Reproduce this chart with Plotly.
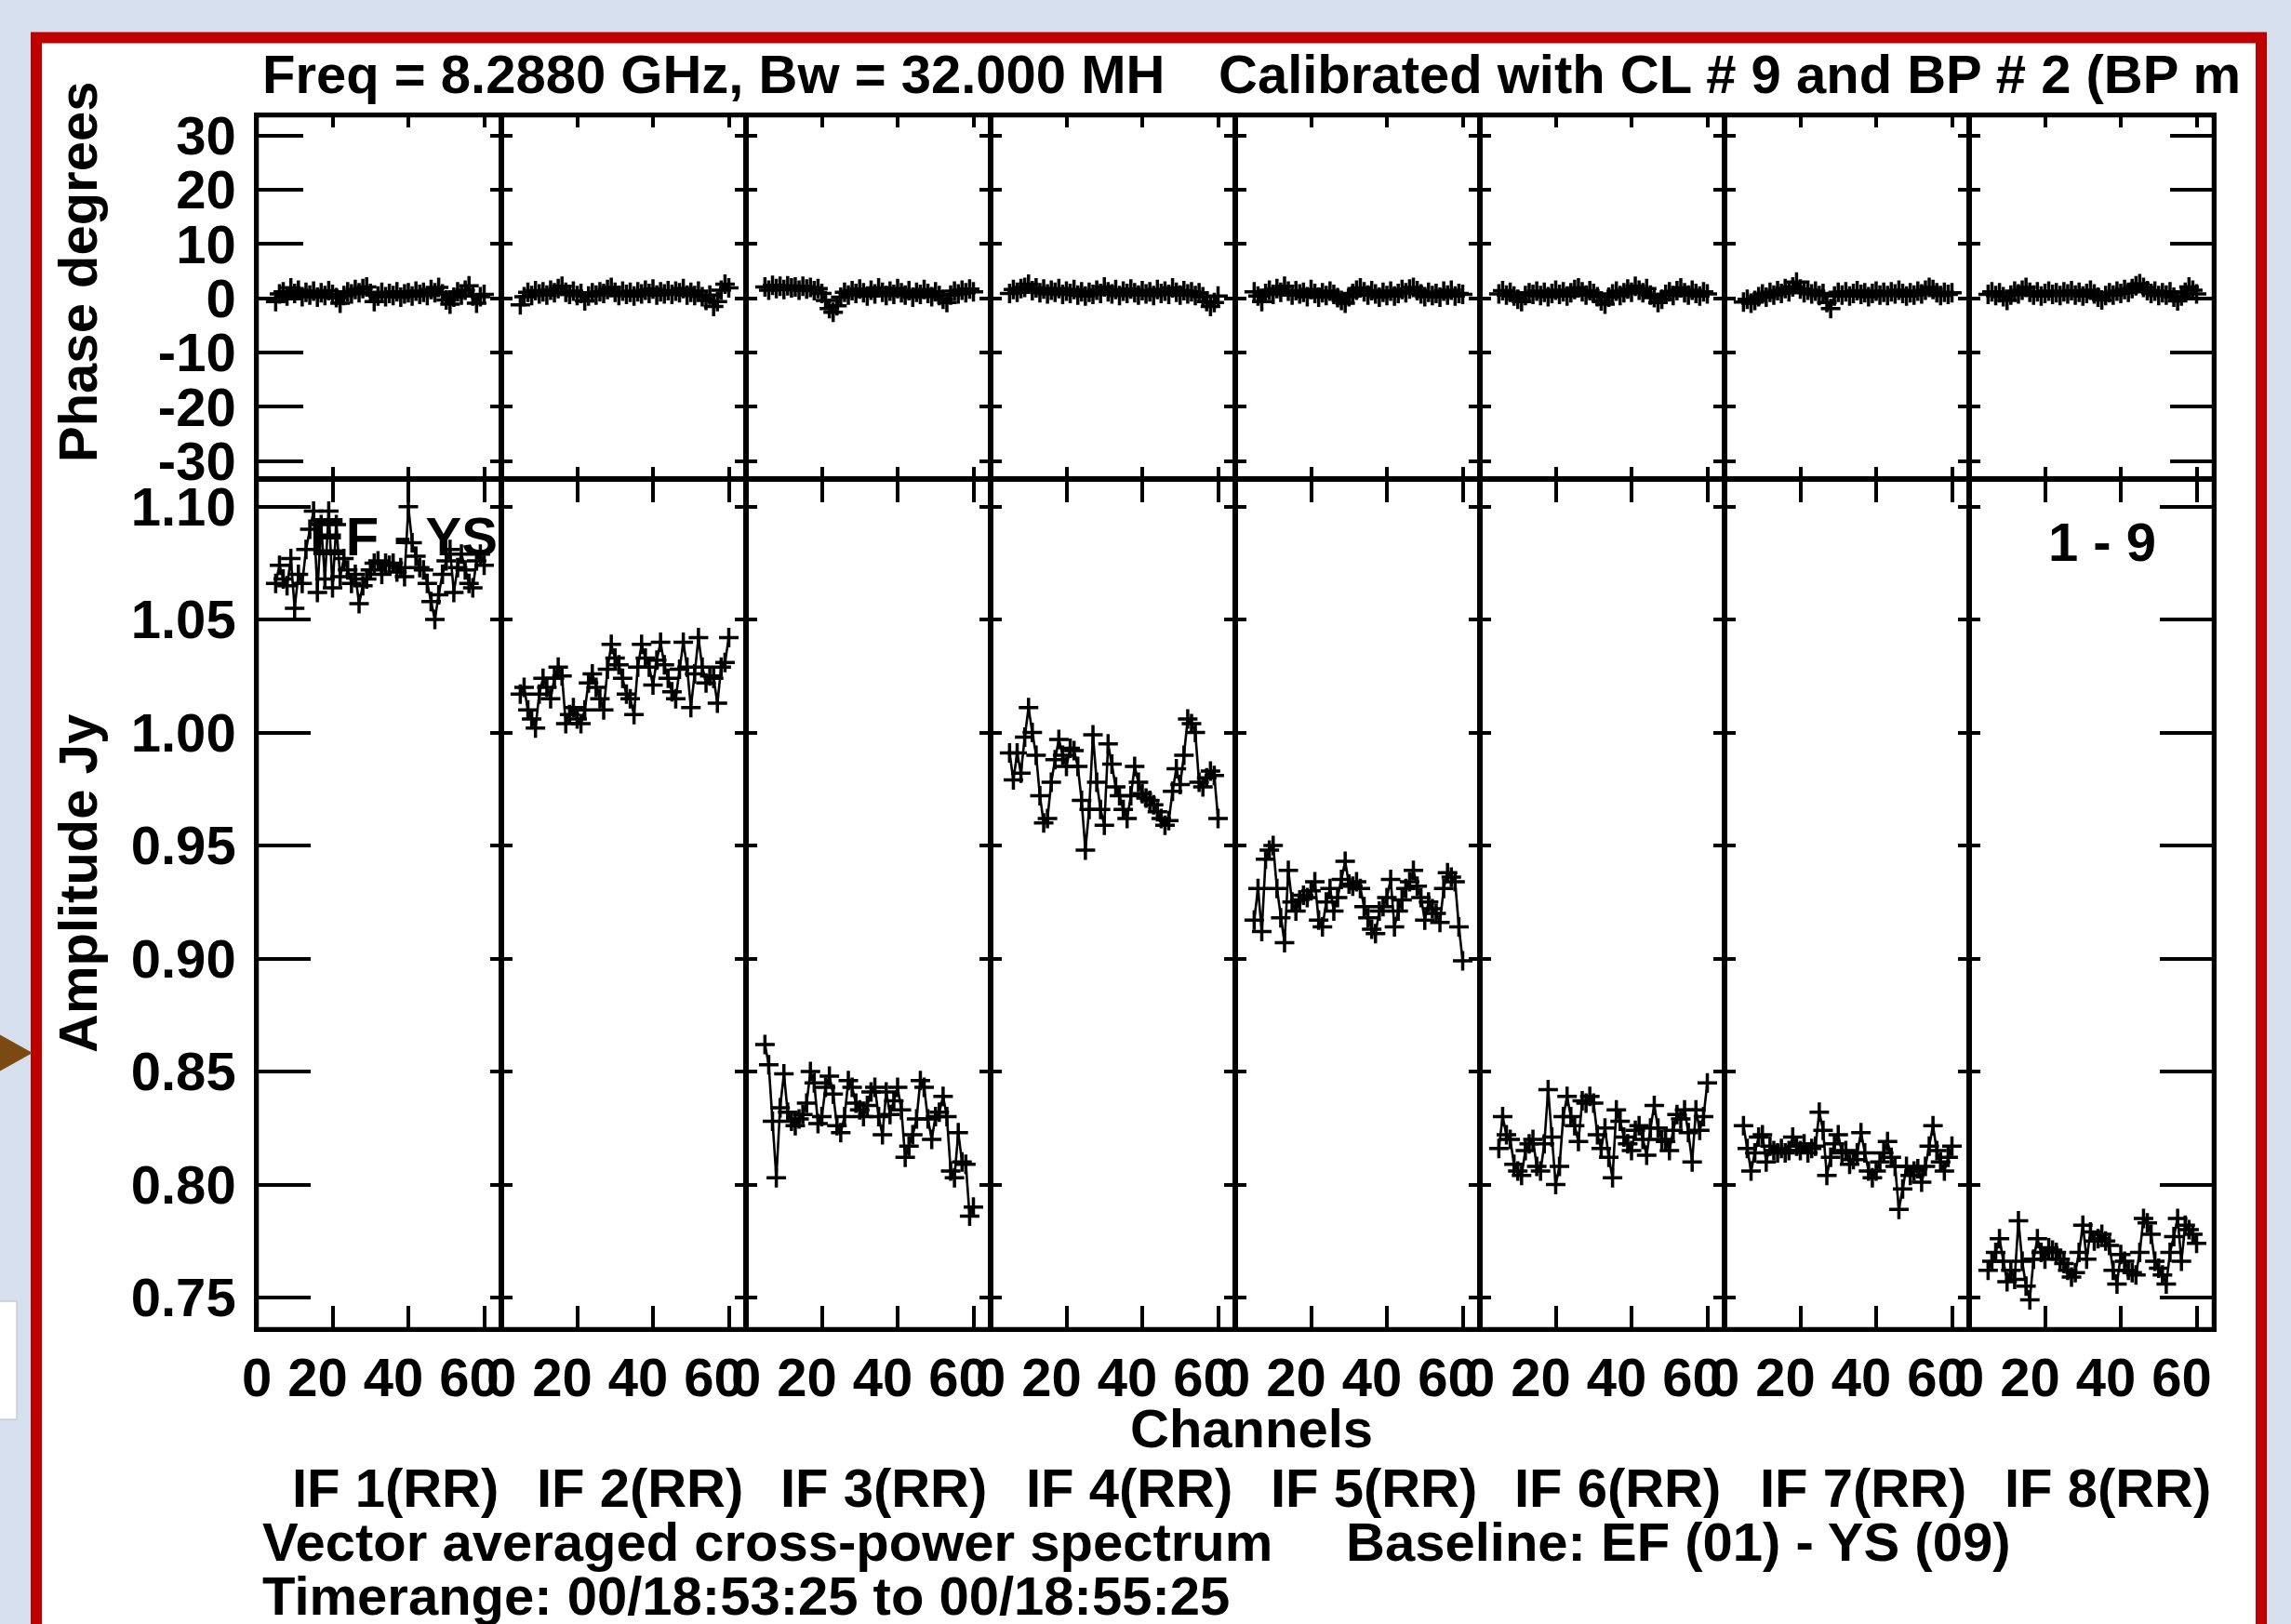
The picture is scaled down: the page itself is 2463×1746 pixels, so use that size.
import plotly.graph_objects as go

W, H = 2463, 1746

# ---------------- data ----------------
channels = list(range(5, 61))
if_labels = ["IF 1(RR)", "IF 2(RR)", "IF 3(RR)", "IF 4(RR)",
             "IF 5(RR)", "IF 6(RR)", "IF 7(RR)", "IF 8(RR)"]
phase_ticks = [30, 20, 10, 0, -10, -20, -30]
phase_ticktext = ["30", "20", "10", "0", "-10", "-20", "-30"]
amp_ticks = [1.10, 1.05, 1.00, 0.95, 0.90, 0.85, 0.80, 0.75]
amp_ticktext = ["1.10", "1.05", "1.00", "0.95", "0.90", "0.85", "0.80", "0.75"]
chan_ticks = [0, 20, 40, 60]
chan_ticktext = ["0", "20\u00a0\u00a0", "40\u00a0\u00a0", "60\u00a0\u00a0"]

phase_if1 = [-0.6, 0.8, 1.2, 0.4, 1.9, 0.9, 1.5, 0.3, 1.1, 0.6, 1.3, 0.2, 1.0, 0.5, 1.4, 0.7,
             0.1, -0.9, 0.5, 1.2, 0.8, 1.6, 1.0, 1.8, 2.1, 0.9, -0.6, 0.4, 1.1, 0.3, 0.9, 0.5,
             1.2, 0.2, 0.8, 1.0, 0.4, 1.3, 0.7, 1.1, 0.5, 1.6, 1.0, 2.0, 0.8, -0.3, -1.1, 0.2,
             1.2, 0.6, 1.5, 2.3, 0.4, -0.9, 0.3, 0.7]
phase_if2 = [-1.2, 0.3, 1.1, 0.5, 1.4, 0.8, 1.2, 0.6, 1.5, 1.0, 1.8, 2.2, 1.1, 0.7, 1.3, 0.5,
             0.9, -0.5, 0.4, 1.0, 0.6, 1.2, 0.9, 1.6, 2.0, 1.1, 0.5, 1.3, 0.7, 1.1, 0.4, 1.2,
             0.8, 1.5, 0.9, 1.7, 0.6, 1.2, 0.8, 1.4, 0.7, 1.3, 1.0, 1.8, 0.6, 1.1, 0.5, 1.3,
             0.3, -0.4, 0.6, -1.5, -0.6, 1.5, 2.6, 1.9]
phase_if3 = [2.1, 1.5, 2.4, 1.8, 2.2, 1.6, 2.3, 1.9, 2.1, 1.5, 2.2, 1.7, 2.0, 1.4, 1.8, 0.9,
             -0.4, -1.9, -2.6, -1.4, 0.2, 1.1, 0.6, 1.4, 0.9, 1.7, 1.0, 0.4, 1.5, 0.8, 1.9, 1.1,
             0.5, 1.3, 0.7, 1.8, 1.0, 0.6, 1.4, 0.2, 1.1, 0.7, 1.6, 0.9, 0.3, 1.2, 0.5, -0.2,
             -0.8, 0.6, 1.3, 0.8, 1.5, 1.0, 1.7, 1.2]
phase_if4 = [0.9, 1.6, 1.1, 1.8, 2.0, 2.6, 1.4, 1.9, 1.0, 1.7, 0.8, 1.5, 1.1, 1.8, 0.7, 1.3,
             0.9, 1.6, 0.6, 1.2, 0.4, 1.1, 0.7, 1.5, 0.9, 2.1, 1.2, 0.8, 1.6, 0.5, 1.3, 0.9,
             1.7, 1.0, 0.6, 1.4, 0.8, 1.2, 0.5, 1.6, 0.9, 1.3, 0.7, 1.9, 1.1, 0.6, 1.4, 0.8,
             1.2, 0.5, 1.0, 0.3, -0.6, -1.5, -0.8, 0.4]
phase_if5 = [1.2, 0.4, -0.6, 0.9, 1.5, 0.7, 1.8, 1.1, 2.2, 1.3, 0.6, 1.4, 0.8, 1.1, 0.3, 1.6,
             0.9, 0.2, 1.0, 0.5, 1.3, 0.7, 0.1, -0.4, -0.9, 0.3, 0.9, 1.5, 1.9, 1.2, 0.6, 1.4,
             0.8, 0.2, 1.1, 0.5, 1.3, 0.4, 0.9, 1.6, 1.0, 1.7, 2.0, 1.4, 0.8, 0.3, 1.1, 0.5,
             0.9, 0.2, 1.3, 0.6, 1.5, 0.4, 0.9, 0.7]
phase_if6 = [0.8, 1.4, 0.6, 1.1, 0.4, -0.2, -0.6, 0.5, 1.0, 0.7, 1.3, 0.5, 1.1, 0.3, 0.9, 1.5,
             0.7, 1.2, 0.4, 1.0, 1.6, 1.9, 1.2, 0.6, 1.4, 0.9, 0.3, -0.5, -1.1, 0.2, 0.8, 1.3,
             0.5, 1.0, 1.7, 1.1, 2.2, 1.5, 1.0, 1.8, 0.6, 0.1, -0.8, -0.2, 0.7, 1.2, 0.5, 1.4,
             1.9, 1.0, 0.6, 1.5, 0.9, 0.4, 1.2, 0.8]
phase_if7 = [-0.7, -0.2, -0.9, -0.4, 0.3, 0.8, 0.2, 1.1, 0.6, 1.4, 0.9, 1.8, 1.2, 2.1, 3.0, 1.7,
             1.0, 1.5, 0.8, 1.3, 0.5, 0.9, -0.8, -1.9, 0.4, 1.1, 0.6, 1.2, 0.4, 0.9, 1.4, 0.7,
             1.0, 0.3, 0.9, 1.3, 0.6, 1.1, 0.5, 1.2, 0.8, 1.5, 0.9, 0.4, 1.0, 0.6, 1.3, 0.8,
             1.5, 2.0, 1.6, 1.0, 0.5, 1.1, 0.7, 1.0]
phase_if8 = [0.7, 1.2, 0.5, 1.0, 0.3, -0.4, 0.6, 1.3, 0.8, 1.5, 2.0, 1.1, 0.6, 1.2, 0.4, 0.9,
             1.3, 0.7, 1.0, 0.5, 1.2, 0.8, 1.4, 0.6, 1.1, 0.4, 0.9, 1.5, 0.8, 0.2, -0.3, 0.5,
             1.0, 0.6, 1.3, 0.9, 1.6, 1.1, 1.8, 2.3, 2.7, 2.0, 1.4, 0.9, 1.3, 0.5, 1.0, 0.6,
             1.2, 0.2, -0.5, 0.4, 1.1, 2.1, 1.5, 0.8]

amp_if1 = [1.066, 1.074, 1.068, 1.065, 1.077, 1.055, 1.070, 1.066, 1.081, 1.090, 1.098, 1.062,
           1.092, 1.068, 1.098, 1.064, 1.092, 1.069, 1.077, 1.072, 1.066, 1.070, 1.057, 1.065,
           1.068, 1.072, 1.075, 1.076, 1.070, 1.075, 1.074, 1.075, 1.071, 1.073, 1.069, 1.100,
           1.084, 1.078, 1.073, 1.072, 1.066, 1.058, 1.050, 1.061, 1.070, 1.076, 1.081, 1.062,
           1.073, 1.079, 1.072, 1.066, 1.064, 1.076, 1.079, 1.074]
amp_if2 = [1.017, 1.020, 1.010, 1.006, 1.002, 1.017, 1.024, 1.020, 1.015, 1.024, 1.029, 1.025,
           1.004, 1.008, 1.011, 1.006, 1.004, 1.010, 1.022, 1.026, 1.020, 1.015, 1.010, 1.028,
           1.039, 1.033, 1.030, 1.024, 1.017, 1.015, 1.008, 1.029, 1.039, 1.033, 1.029, 1.021,
           1.032, 1.040, 1.030, 1.024, 1.018, 1.015, 1.028, 1.040, 1.029, 1.011, 1.026, 1.042,
           1.029, 1.022, 1.025, 1.024, 1.013, 1.029, 1.031, 1.042]
amp_if3 = [0.862, 0.853, 0.828, 0.803, 0.834, 0.849, 0.832, 0.828, 0.826, 0.829, 0.831, 0.836,
           0.850, 0.845, 0.827, 0.830, 0.843, 0.848, 0.840, 0.826, 0.823, 0.830, 0.846, 0.843,
           0.836, 0.833, 0.830, 0.835, 0.841, 0.843, 0.830, 0.822, 0.841, 0.831, 0.837, 0.843,
           0.833, 0.812, 0.817, 0.822, 0.829, 0.846, 0.843, 0.829, 0.820, 0.830, 0.832, 0.839,
           0.830, 0.806, 0.803, 0.823, 0.810, 0.809, 0.786, 0.790]
amp_if4 = [0.991, 0.979, 0.991, 0.982, 0.998, 1.011, 1.000, 0.990, 0.972, 0.960, 0.962, 0.978,
           0.988, 0.997, 0.990, 0.985, 0.993, 0.992, 0.985, 0.970, 0.948, 0.966, 0.999, 0.978,
           0.966, 0.959, 0.995, 0.986, 0.976, 0.972, 0.966, 0.962, 0.972, 0.985, 0.978, 0.973,
           0.971, 0.970, 0.968, 0.965, 0.962, 0.959, 0.961, 0.974, 0.984, 0.977, 0.990, 1.006,
           1.004, 1.000, 0.978, 0.976, 0.980, 0.983, 0.981, 0.962]
amp_if5 = [0.917, 0.931, 0.912, 0.944, 0.948, 0.950, 0.931, 0.918, 0.907, 0.939, 0.925, 0.921,
           0.926, 0.928, 0.927, 0.930, 0.934, 0.917, 0.914, 0.925, 0.931, 0.921, 0.927, 0.935,
           0.943, 0.933, 0.932, 0.934, 0.931, 0.923, 0.918, 0.913, 0.911, 0.921, 0.923, 0.927,
           0.935, 0.914, 0.921, 0.926, 0.931, 0.934, 0.939, 0.932, 0.927, 0.917, 0.925, 0.922,
           0.920, 0.916, 0.931, 0.938, 0.936, 0.934, 0.914, 0.899]
amp_if6 = [0.816, 0.830, 0.822, 0.820, 0.809, 0.806, 0.804, 0.815, 0.818, 0.820, 0.808, 0.806,
           0.818, 0.842, 0.821, 0.800, 0.808, 0.830, 0.839, 0.830, 0.826, 0.819, 0.837, 0.836,
           0.839, 0.836, 0.822, 0.816, 0.825, 0.812, 0.803, 0.833, 0.828, 0.821, 0.818, 0.815,
           0.824, 0.826, 0.820, 0.813, 0.825, 0.835, 0.825, 0.820, 0.819, 0.815, 0.824, 0.831,
           0.829, 0.833, 0.823, 0.810, 0.833, 0.824, 0.830, 0.845]
amp_if7 = [0.826, 0.816, 0.806, 0.814, 0.821, 0.822, 0.810, 0.817, 0.815, 0.814, 0.816, 0.814,
           0.815, 0.821, 0.817, 0.815, 0.818, 0.814, 0.816, 0.817, 0.832, 0.824, 0.804, 0.812,
           0.818, 0.822, 0.814, 0.815, 0.809, 0.811, 0.814, 0.823, 0.814, 0.806, 0.803, 0.806,
           0.810, 0.814, 0.819, 0.812, 0.808, 0.789, 0.798, 0.808, 0.804, 0.806, 0.807, 0.801,
           0.808, 0.817, 0.826, 0.815, 0.810, 0.806, 0.812, 0.817]
amp_if8 = [0.762, 0.766, 0.770, 0.776, 0.766, 0.757, 0.762, 0.758, 0.784, 0.766, 0.755, 0.749,
           0.767, 0.776, 0.770, 0.767, 0.772, 0.771, 0.770, 0.767, 0.765, 0.762, 0.759, 0.761,
           0.770, 0.782, 0.767, 0.779, 0.775, 0.776, 0.778, 0.775, 0.773, 0.762, 0.756, 0.769,
           0.766, 0.762, 0.761, 0.760, 0.770, 0.785, 0.783, 0.778, 0.766, 0.763, 0.760, 0.756,
           0.770, 0.777, 0.785, 0.766, 0.782, 0.780, 0.778, 0.774]

phases = [phase_if1, phase_if2, phase_if3, phase_if4, phase_if5, phase_if6, phase_if7, phase_if8]
amps = [amp_if1, amp_if2, amp_if3, amp_if4, amp_if5, amp_if6, amp_if7, amp_if8]

# ---------------- layout geometry (pixels) ----------------
col_edges = [276, 539, 802, 1065, 1328, 1591, 1854, 2117, 2380]
row_edges = [124, 515, 1429]
x_range = [0, 64.54]
phase_range = [-33.31, 33.72]
amp_range = [0.7360, 1.1122]

FONT = "Liberation Sans, Arial, Helvetica, sans-serif"
FS = 58


def fx(p):
    return p / W


def fy(p):
    return 1 - p / H


fig = go.Figure()
layout = dict(
    template="none",
    width=W, height=H, autosize=False,
    margin=dict(l=0, r=0, t=0, b=0, pad=0, autoexpand=False),
    paper_bgcolor="#D6DFEE", plot_bgcolor="rgba(0,0,0,0)",
    showlegend=False, hovermode=False,
)

marker = dict(symbol="cross-thin", size=15, color="black", line=dict(width=3.5, color="black"))
line = dict(color="black", width=2.6)
tickfont = dict(family=FONT, size=FS, color="black", weight="bold")

for r in range(2):
    for i in range(8):
        n = r * 8 + i + 1
        sx = "" if n == 1 else str(n)
        ydata = phases[i] if r == 0 else amps[i]
        fig.add_trace(go.Scatter(x=channels, y=ydata, mode="lines+markers",
                                 xaxis="x" + sx, yaxis="y" + sx,
                                 line=line, marker=marker, hoverinfo="skip"))
        layout["xaxis" + sx] = dict(
            domain=[fx(col_edges[i]), fx(col_edges[i + 1])], anchor="y" + sx,
            range=x_range, tickvals=chan_ticks, ticktext=chan_ticktext,
            ticks="inside", ticklen=13 if r == 0 else 25, tickwidth=4, tickcolor="black",
            mirror="ticks", showline=True, linewidth=2.5, linecolor="black",
            showgrid=False, zeroline=False, showticklabels=(r == 1), automargin=False,
            tickfont=tickfont, tickangle=0,
        )
        layout["yaxis" + sx] = dict(
            domain=[fy(row_edges[r + 1]), fy(row_edges[r])], anchor="x" + sx,
            range=phase_range if r == 0 else amp_range,
            tickvals=phase_ticks if r == 0 else amp_ticks,
            ticktext=phase_ticktext if r == 0 else amp_ticktext,
            ticks="inside", ticklen=12, tickwidth=4, tickcolor="black",
            mirror="ticks", showline=True, linewidth=2.5, linecolor="black",
            showgrid=False, zeroline=False, showticklabels=(i == 0), automargin=False,
            tickfont=tickfont, ticklabelstandoff=8,
        )

# long outer ticks on the left of IF 1 and right of IF 8
overlays = [
    (17, "", "", "left", phase_range, phase_ticks, 50),
    (18, "9", "9", "left", amp_range, amp_ticks, 58),
    (19, "8", "8", "right", phase_range, phase_ticks, 47),
    (20, "16", "16", "right", amp_range, amp_ticks, 58),
]
for n, xs, ys, side, rng, tv, tl in overlays:
    fig.add_trace(go.Scatter(x=[], y=[], xaxis="x" + xs, yaxis="y" + str(n),
                             hoverinfo="skip", showlegend=False))
    layout["yaxis" + str(n)] = dict(
        overlaying="y" + ys, anchor="x" + xs, side=side, range=rng, tickvals=tv,
        ticks="inside", ticklen=tl, tickwidth=4, tickcolor="black", automargin=False,
        showline=False, showgrid=False, zeroline=False, showticklabels=False,
    )

# slide frame decorations
shapes = [
    dict(type="rect", xref="paper", yref="paper", x0=fx(39), x1=fx(2431), y0=fy(1800), y1=fy(40.5),
         line=dict(color="#BF0000", width=12), fillcolor="white", layer="below"),
    dict(type="rect", xref="paper", yref="paper", x0=fx(-10), x1=fx(18), y0=fy(1526), y1=fy(1399),
         line=dict(color="#C9CED6", width=1.5), fillcolor="white", layer="below"),
    dict(type="path", xref="paper", yref="paper",
         path="M {a},{b} L {c},{d} L {e},{f} Z".format(a=fx(0), b=fy(1113), c=fx(34), d=fy(1132),
                                                      e=fx(0), f=fy(1151)),
         line=dict(color="#7A4A12", width=1), fillcolor="#7A4A12", layer="below"),
    dict(type="rect", xref="paper", yref="paper", x0=fx(col_edges[0]), x1=fx(col_edges[-1]),
         y0=fy(row_edges[2]), y1=fy(row_edges[0]), line=dict(color="black", width=4.5),
         fillcolor="rgba(0,0,0,0)", layer="above"),
]
layout["shapes"] = shapes

afont = dict(family=FONT, size=FS, color="black", weight="bold")


def ann(text, x, y, xanchor="left", angle=0):
    return dict(text=text, x=fx(x), y=fy(y), xref="paper", yref="paper", xanchor=xanchor,
                yanchor="middle", showarrow=False, font=afont, textangle=angle)


annotations = [
    ann("Freq = 8.2880 GHz, Bw = 32.000 MH", 280, 80),
    ann("Calibrated with CL # 9 and BP # 2 (BP m", 1308, 80),
    ann("Phase degrees", 84, 293, "center", -90),
    ann("Amplitude Jy", 84, 950, "center", -90),
    ann("EF - YS", 331, 577),
    ann("1 - 9", 2320, 583, "right"),
    ann("Channels", 1345, 1535, "center"),
    ann("Vector averaged cross-power spectrum", 280, 1657),
    ann("Baseline: EF (01) - YS (09)", 1445, 1657),
    ann("Timerange: 00/18:53:25 to 00/18:55:25", 280, 1715),
]
for i, lab in enumerate(if_labels):
    cx = (col_edges[i] + col_edges[i + 1]) / 2 + 17
    annotations.append(ann(lab, cx, 1599, "center"))
layout["annotations"] = annotations

fig.update_layout(**layout)
fig.write_html("out.html")
